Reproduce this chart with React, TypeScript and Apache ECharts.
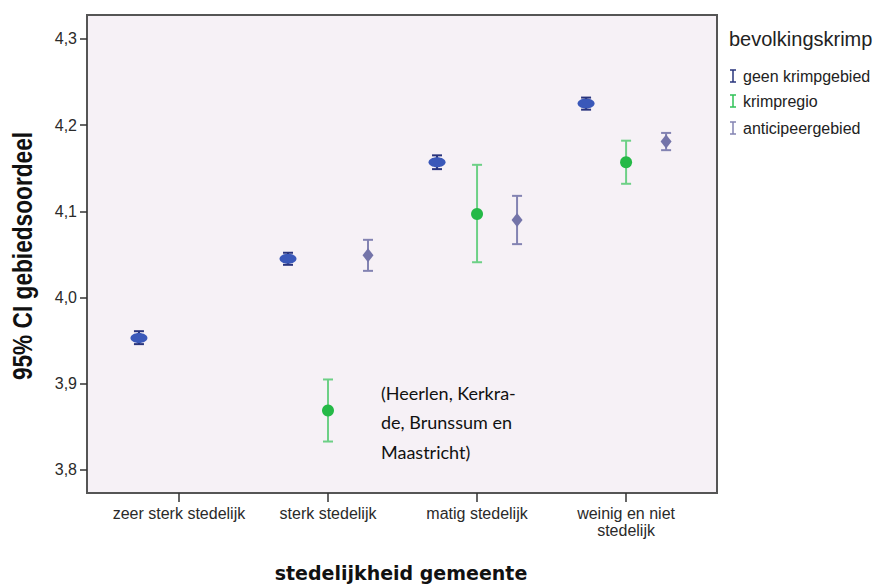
import React, { useEffect, useRef } from "react";
import * as echarts from "echarts";

// Urbanisation classes on the x axis
const categories = [
  "zeer sterk stedelijk",
  "sterk stedelijk",
  "matig stedelijk",
  "weinig en niet\nstedelijk",
];

// y-axis tick values (shown with a decimal comma)
const yTicks = [3.8, 3.9, 4.0, 4.1, 4.2, 4.3];

// geen krimpgebied: mean and 95% CI bounds per category
const geenCat = [0, 1, 2, 3];
const geenMean = [3.953, 4.045, 4.157, 4.225];
const geenLow = [3.946, 4.038, 4.149, 4.218];
const geenHigh = [3.961, 4.052, 4.165, 4.232];

// krimpregio
const krimpCat = [1, 2, 3];
const krimpMean = [3.869, 4.097, 4.157];
const krimpLow = [3.833, 4.041, 4.132];
const krimpHigh = [3.905, 4.154, 4.182];

// anticipeergebied
const antiCat = [1, 2, 3];
const antiMean = [4.049, 4.09, 4.181];
const antiLow = [4.031, 4.062, 4.171];
const antiHigh = [4.067, 4.118, 4.191];

const legendTitle = "bevolkingskrimp";
const seriesNames = ["geen krimpgebied", "krimpregio", "anticipeergebied"];
const noteText = "(Heerlen, Kerkra-\nde, Brunssum en\nMaastricht)";

const rows = (cat: number[], m: number[], lo: number[], hi: number[]) =>
  cat.map((c, i) => [c, m[i], lo[i], hi[i]]);

type Marker = "ellipse" | "circle" | "diamond";

function errorBarRenderer(
  offset: number,
  marker: Marker,
  fill: string,
  lineColor: string
) {
  return (_params: any, api: any) => {
    const x = api.value(0) + offset;
    const pm = api.coord([x, api.value(1)]);
    const pl = api.coord([x, api.value(2)]);
    const ph = api.coord([x, api.value(3)]);
    const cap = 5;
    const lineStyle = { stroke: lineColor, lineWidth: 2 };
    let shape: any;
    if (marker === "ellipse") {
      shape = { type: "ellipse", shape: { cx: pm[0], cy: pm[1], rx: 8.5, ry: 5 }, style: { fill } };
    } else if (marker === "circle") {
      shape = { type: "circle", shape: { cx: pm[0], cy: pm[1], r: 6 }, style: { fill } };
    } else {
      shape = {
        type: "polygon",
        shape: {
          points: [
            [pm[0], pm[1] - 7],
            [pm[0] + 5.5, pm[1]],
            [pm[0], pm[1] + 7],
            [pm[0] - 5.5, pm[1]],
          ],
        },
        style: { fill },
      };
    }
    return {
      type: "group",
      children: [
        { type: "line", shape: { x1: ph[0], y1: ph[1], x2: pl[0], y2: pl[1] }, style: lineStyle },
        shape,
        { type: "line", shape: { x1: ph[0] - cap, y1: ph[1], x2: ph[0] + cap, y2: ph[1] }, style: lineStyle },
        { type: "line", shape: { x1: pl[0] - cap, y1: pl[1], x2: pl[0] + cap, y2: pl[1] }, style: lineStyle },
      ],
    };
  };
}

const legendIcon = (x: number, y: number, color: string) => ({
  type: "group",
  children: [
    { type: "line", shape: { x1: x, y1: y - 6, x2: x, y2: y + 6 }, style: { stroke: color, lineWidth: 1.5 } },
    { type: "line", shape: { x1: x - 3, y1: y - 6, x2: x + 3, y2: y - 6 }, style: { stroke: color, lineWidth: 1.5 } },
    { type: "line", shape: { x1: x - 3, y1: y + 6, x2: x + 3, y2: y + 6 }, style: { stroke: color, lineWidth: 1.5 } },
  ],
});

export default function App() {
  const ref = useRef<HTMLDivElement>(null);

  useEffect(() => {
    if (!ref.current) return;
    const chart = echarts.init(ref.current, undefined, { renderer: "svg" });
    const shift = 40 / 149;
    const blueLine = "#29347d";
    const greenLine = "#6dd086";
    const purpleLine = "#8383b2";

    chart.setOption({
      animation: false,
      backgroundColor: "#ffffff",
      grid: {
        left: 87,
        top: 15,
        width: 630,
        height: 478,
        show: true,
        backgroundColor: "#f6f1f6",
        borderColor: "#555555",
        borderWidth: 2,
      },
      xAxis: {
        type: "value",
        min: -0.617,
        max: 3.61,
        splitLine: { show: false },
        axisLine: { show: false, onZero: false },
        axisTick: {
          show: true,
          customValues: [0, 1, 2, 3],
          length: 9,
          lineStyle: { color: "#333333", width: 1.5 },
        },
        axisLabel: {
          customValues: [0, 1, 2, 3],
          formatter: (v: number) => categories[Math.round(v)],
          fontFamily: "Liberation Sans, Arial, sans-serif",
          fontSize: 16,
          color: "#2a2a2a",
          margin: 12,
          lineHeight: 17,
        },
      },
      yAxis: {
        type: "value",
        min: 3.7733,
        max: 4.3278,
        splitLine: { show: false },
        axisLine: { show: false, onZero: false },
        axisTick: {
          show: true,
          customValues: yTicks,
          length: 7,
          lineStyle: { color: "#333333", width: 1.5 },
        },
        axisLabel: {
          customValues: yTicks,
          formatter: (v: number) => v.toFixed(1).replace(".", ","),
          fontFamily: "Liberation Sans, Arial, sans-serif",
          fontSize: 16,
          color: "#2a2a2a",
          margin: 10,
        },
      },
      series: [
        {
          type: "custom",
          name: seriesNames[0],
          renderItem: errorBarRenderer(-shift, "ellipse", "#3a58b9", blueLine),
          data: rows(geenCat, geenMean, geenLow, geenHigh),
          encode: { x: 0, y: [1, 2, 3] },
          z: 3,
        },
        {
          type: "custom",
          name: seriesNames[1],
          renderItem: errorBarRenderer(0, "circle", "#25b947", greenLine),
          data: rows(krimpCat, krimpMean, krimpLow, krimpHigh),
          encode: { x: 0, y: [1, 2, 3] },
          z: 3,
        },
        {
          type: "custom",
          name: seriesNames[2],
          renderItem: errorBarRenderer(shift, "diamond", "#7474a9", purpleLine),
          data: rows(antiCat, antiMean, antiLow, antiHigh),
          encode: { x: 0, y: [1, 2, 3] },
          z: 3,
        },
      ],
      graphic: [
        {
          type: "text",
          left: 381,
          top: 378,
          style: {
            text: noteText,
            font: "18px Lato, 'Open Sans', sans-serif",
            fill: "#111111",
            lineHeight: 29.5,
          },
          z: 10,
        },
        {
          type: "text",
          x: 22,
          y: 256,
          rotation: Math.PI / 2,
          scaleX: 0.84,
          style: {
            text: "95% CI gebiedsoordeel",
            font: "bold 27px 'Liberation Sans', Arial, sans-serif",
            fill: "#111111",
            align: "center",
            verticalAlign: "middle",
          },
        },
        {
          type: "text",
          x: 401,
          y: 573,
          style: {
            text: "stedelijkheid gemeente",
            font: "bold 19px 'DejaVu Sans', Verdana, sans-serif",
            fill: "#111111",
            align: "center",
            verticalAlign: "middle",
          },
        },
        {
          type: "text",
          x: 729,
          y: 39,
          style: {
            text: legendTitle,
            font: "20px 'Liberation Sans', Arial, sans-serif",
            fill: "#222222",
            verticalAlign: "middle",
          },
        },
        legendIcon(733, 76, blueLine),
        legendIcon(733, 101, "#2fc257"),
        legendIcon(733, 128, purpleLine),
        ...seriesNames.map((name, i) => ({
          type: "text",
          x: 743,
          y: [76, 101, 128][i],
          style: {
            text: name,
            font: "16px 'Liberation Sans', Arial, sans-serif",
            fill: "#222222",
            verticalAlign: "middle",
          },
        })),
      ],
    });
    return () => chart.dispose();
  }, []);

  return (
    <div
      ref={ref}
      style={{ position: "absolute", left: 0, top: 0, width: 877, height: 584 }}
    />
  );
}
